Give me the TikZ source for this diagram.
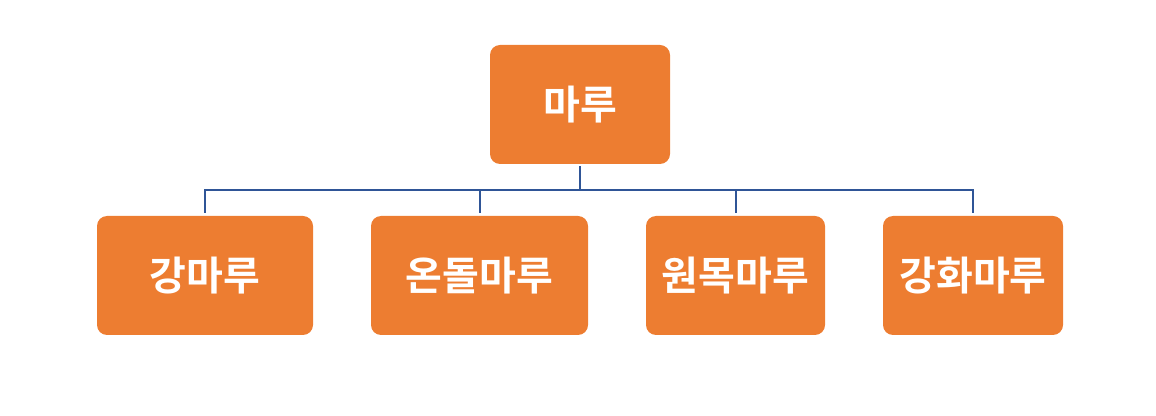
\documentclass[tikz,border=0pt]{standalone}
\usepackage{fontspec}
\newfontfamily\cjk{Noto Sans CJK KR}[BoldFont={* Bold}]
\definecolor{boxor}{HTML}{ED7D31}
\definecolor{linebl}{HTML}{2F5597}
\begin{document}
\begin{tikzpicture}[x=0.75pt,y=-0.75pt,
  box/.style={fill=boxor,rounded corners=7.5pt,text=white,font=\cjk\bfseries\fontsize{30}{34}\selectfont,inner sep=0pt},
  conn/.style={draw=linebl,line width=1.5pt}]
\useasboundingbox (0,0) rectangle (1156,416);
\node[box,minimum width=180*0.75pt,minimum height=119*0.75pt] (t) at (580,104.5) {마루};
\node[box,minimum width=216*0.75pt,minimum height=119*0.75pt] (a) at (205,275.5) {강마루};
\node[box,minimum width=217*0.75pt,minimum height=119*0.75pt] (b) at (479.5,275.5) {온돌마루};
\node[box,minimum width=179*0.75pt,minimum height=119*0.75pt] (c) at (735.5,275.5) {원목마루};
\node[box,minimum width=180*0.75pt,minimum height=119*0.75pt] (d) at (973,275.5) {강화마루};
\coordinate (bus) at (580,190);
\draw[conn] ([yshift=-1.5pt]t.south) -- (bus);
\foreach \n in {a,b,c,d}{
  \draw[conn] ([yshift=2.25pt]\n.north) |- (bus);
}
\end{tikzpicture}
\end{document}
